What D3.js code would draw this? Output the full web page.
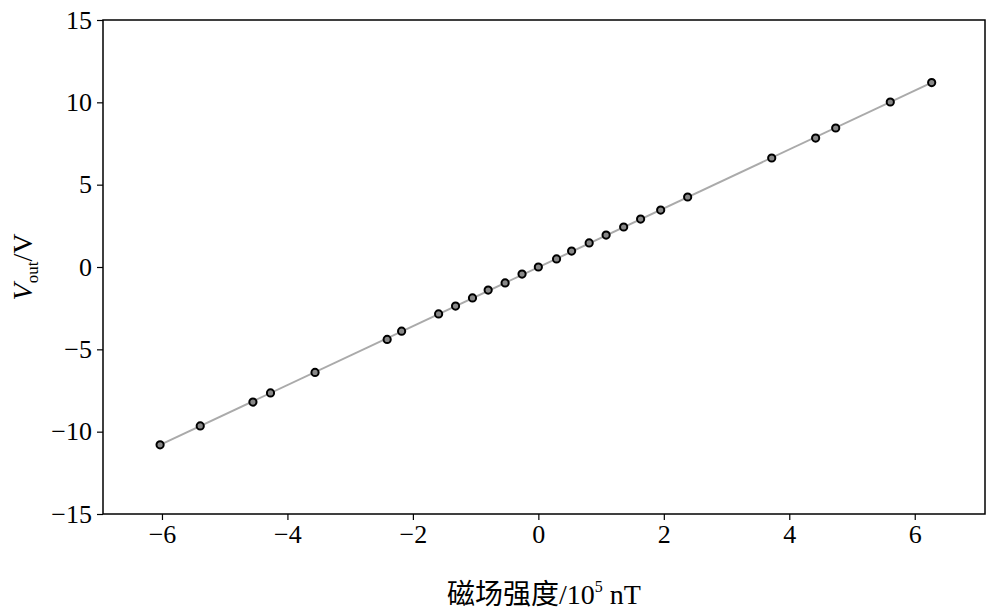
<!DOCTYPE html>
<html><head><meta charset="utf-8">
<script src="https://cdn.jsdelivr.net/npm/d3@7"></script>
<style>body{margin:0;background:#fff}</style></head>
<body><svg id="c" width="993" height="616"></svg>
<script>
const xVals=[-6.03,-5.39,-4.55,-4.27,-3.56,-2.41,-2.18,-1.59,-1.32,-1.05,-0.80,-0.53,-0.26,0,0.29,0.53,0.81,1.08,1.36,1.63,1.95,2.38,3.72,4.42,4.74,5.61,6.27];
const yVals=[-10.8,-9.65,-8.2,-7.65,-6.4,-4.4,-3.9,-2.85,-2.37,-1.88,-1.4,-0.97,-0.43,0,0.49,0.97,1.46,1.94,2.43,2.91,3.46,4.25,6.62,7.83,8.44,10.02,11.2];
const xTicks=[-6,-4,-2,0,2,4,6];
const yTicks=[-15,-10,-5,0,5,10,15];
const svg=d3.select("#c");
const L=103,R=985,T=20,B=514;
const x=d3.scaleLinear().domain([-6.94,7.12]).range([L,R]);
const y=d3.scaleLinear().domain([-15,15]).range([B,T]);
const font="Liberation Serif, Times New Roman, Tinos, serif";
const n=xVals.length,mx=d3.mean(xVals),my=d3.mean(yVals);
let sxy=0,sxx=0;for(let i=0;i<n;i++){sxy+=(xVals[i]-mx)*(yVals[i]-my);sxx+=(xVals[i]-mx)**2;}
const k=sxy/sxx,b0=my-k*mx;
const x0=d3.min(xVals),x1=d3.max(xVals);
svg.append("line").attr("x1",x(x0)).attr("y1",y(k*x0+b0)).attr("x2",x(x1)).attr("y2",y(k*x1+b0)).attr("stroke","#aaaaaa").attr("stroke-width",2);
svg.selectAll("circle.p").data(d3.range(n)).join("circle").attr("cx",i=>x(xVals[i])).attr("cy",i=>y(yVals[i])).attr("r",3.6).attr("fill","#888").attr("stroke","#000").attr("stroke-width",2);
const gx=svg.append("g").attr("transform",`translate(0,${B})`).call(d3.axisBottom(x).tickValues(xTicks).tickSize(6).tickPadding(5).tickFormat(d=>d<0?"\u2212"+(-d):d));
const gy=svg.append("g").attr("transform",`translate(${L},0)`).call(d3.axisLeft(y).tickValues(yTicks).tickSize(6).tickPadding(5).tickFormat(d=>d<0?"\u2212"+(-d):d));
[gx,gy].forEach(g=>{g.selectAll("text").style("font-family",font).style("font-size","26px").attr("fill","#000");g.select(".domain").remove();g.selectAll("line").attr("stroke","#000").attr("stroke-width",1.2);});
svg.append("rect").attr("x",L).attr("y",T).attr("width",R-L).attr("height",B-T).attr("fill","none").attr("stroke","#000").attr("stroke-width",1.5);
const xl=svg.append("text").attr("x",(L+R)/2).attr("y",604).attr("text-anchor","middle").style("font-size","28px").style("font-family",font);
xl.append("tspan").style("font-family","Noto Sans CJK SC").text("磁场强度");
xl.append("tspan").text("/10");
xl.append("tspan").style("font-size","16px").attr("dy",-12).text("5");
xl.append("tspan").attr("dy",12).text(" nT");
const yl=svg.append("text").attr("transform",`translate(32,${(T+B)/2}) rotate(-90)`).attr("text-anchor","middle").style("font-size","28px").style("font-family",font);
yl.append("tspan").style("font-style","italic").text("V");
yl.append("tspan").style("font-size","17px").attr("dy",6).text("out");
yl.append("tspan").attr("dy",-6).text("/V");
</script></body></html>
